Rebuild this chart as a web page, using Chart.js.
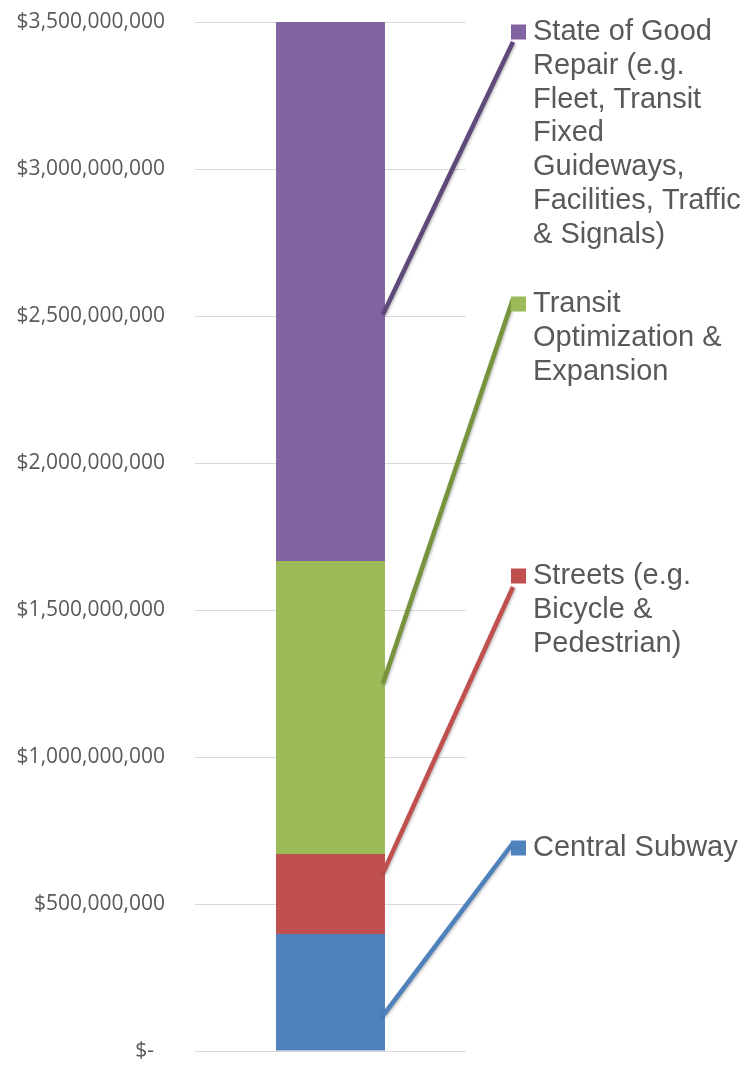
<!DOCTYPE HTML>
<html lang="en">
<head>
<meta charset="UTF-8">
<title>Capital Plan</title>
<script src="https://cdn.jsdelivr.net/npm/chart.js@4.4.0/dist/chart.umd.min.js"></script>
<style>
body { margin: 0; background: #fff; }
#wrap { width: 750px; height: 1066px; position: relative; }
</style>
</head>
<body>
<div id="wrap"><canvas id="mychart"></canvas></div>

<script>
// data (stack order bottom -> top)
var categories = [''];
var seriesNames = ['Central Subway', 'Streets (e.g. Bicycle & Pedestrian)', 'Transit Optimization & Expansion',
    'State of Good Repair (e.g. Fleet, Transit Fixed Guideways, Facilities, Traffic & Signals)'];
var seriesValues = [398000000, 272000000, 997000000, 1833000000];
var legendLines = [
    ['Central Subway'],
    ['Streets (e.g.', 'Bicycle &', 'Pedestrian)'],
    ['Transit', 'Optimization &', 'Expansion'],
    ['State of Good', 'Repair (e.g.', 'Fleet, Transit', 'Fixed', 'Guideways,', 'Facilities, Traffic', '& Signals)']
];
// where each leader line leaves the bar (value on the y axis)
var leaderAnchors = [120000000, 605000000, 1250000000, 2505000000];
var yMin = 0, yMax = 3500000000, yStep = 500000000;

var barColors = ['#4f81bd', '#c0504d', '#9bbb59', '#8064a2'];
var lineColors = ['#4f81bd', '#c0504d', '#77933c', '#5f497a'];
var leaderEndDy = [-5, 11, -5, 10];

function fmtMoney(v) {
    if (v === 0) return '$-  ';
    return '$' + v.toLocaleString('en-US');
}

// legend at the right with leader lines to the bar
var sideLegend = {
    id: 'sideLegend',
    afterDraw: function(chart) {
        var ctx = chart.ctx;
        var y = chart.scales.y;
        var meta = chart.getDatasetMeta(0);
        var barRight = meta.data[0].x + meta.data[0].width / 2;
        var markX = 511, markSize = 15, textX = 533, top = 32, pitch = 272, lineH = 33.8;
        var n = seriesNames.length;
        for (var i = 0; i < n; i++) {
            var cy = top + (n - 1 - i) * pitch;
            // leader
            ctx.save();
            ctx.strokeStyle = lineColors[i];
            ctx.lineWidth = 4.5;
            ctx.shadowColor = 'rgba(0,0,0,0.3)';
            ctx.shadowBlur = 3;
            ctx.shadowOffsetX = 1;
            ctx.shadowOffsetY = 1;
            ctx.beginPath();
            ctx.moveTo(barRight - 2, y.getPixelForValue(leaderAnchors[i]));
            ctx.lineTo(markX + 2, cy + leaderEndDy[i]);
            ctx.stroke();
            ctx.restore();
            // marker
            ctx.fillStyle = barColors[i];
            ctx.fillRect(markX, cy - markSize / 2, markSize, markSize);
            // text
            ctx.fillStyle = '#595959';
            ctx.font = '29px "Liberation Sans", Arial, sans-serif';
            ctx.textAlign = 'left';
            ctx.textBaseline = 'middle';
            legendLines[i].forEach(function(t, k) {
                ctx.fillText(t, textX, cy + k * lineH);
            });
        }
    }
};

window.addEventListener('load', function() {
    var ctx = document.getElementById('mychart');
    var datasets = seriesNames.map(function(name, i) {
        return {
            label: name,
            data: [seriesValues[i]],
            backgroundColor: barColors[i],
            borderWidth: 0,
            categoryPercentage: 1,
            barPercentage: 0.402
        };
    });
    new Chart(ctx, {
        type: 'bar',
        data: { labels: categories, datasets: datasets },
        plugins: [sideLegend],
        options: {
            responsive: true,
            maintainAspectRatio: false,
            animation: false,
            layout: { padding: { left: 15, right: 284, top: 22, bottom: 15 } },
            plugins: { legend: { display: false }, tooltip: { enabled: false } },
            scales: {
                x: { stacked: true, display: false },
                y: {
                    stacked: true,
                    min: yMin,
                    max: yMax,
                    afterFit: function(scale) { scale.width = 180; },
                    border: { display: false },
                    grid: { color: '#d9d9d9', lineWidth: 1, drawTicks: true, tickLength: 30, tickColor: 'rgba(0,0,0,0)' },
                    ticks: {
                        stepSize: yStep,
                        padding: 0,
                        color: '#595959',
                        font: { family: '"Open Sans", sans-serif', size: 21 },
                        callback: function(v) { return fmtMoney(v); }
                    }
                }
            }
        }
    });
});
</script>
</body>
</html>
